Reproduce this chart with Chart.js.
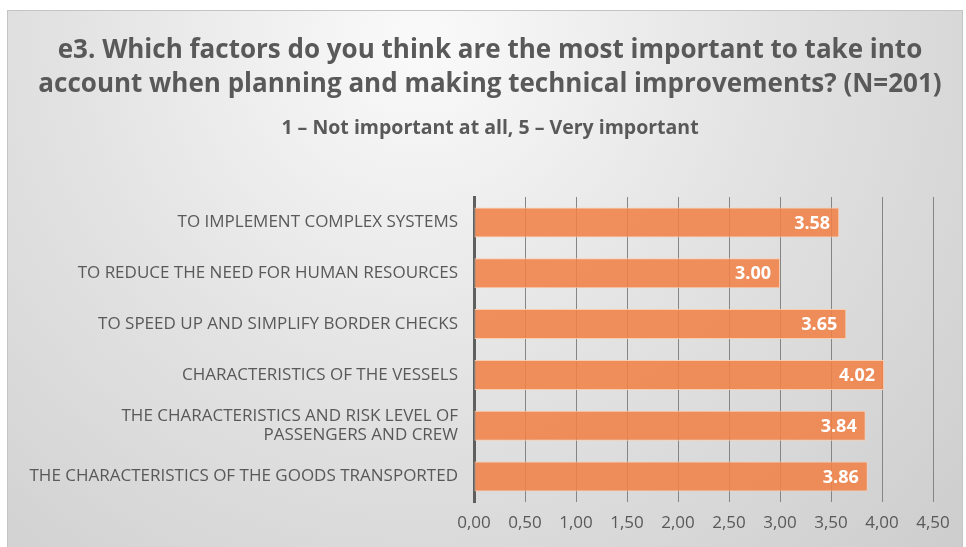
<!DOCTYPE html>
<html>
<head>
<meta charset="utf-8">
<script src="https://cdn.jsdelivr.net/npm/chart.js@4/dist/chart.umd.min.js"></script>
<style>
  html, body { margin: 0; padding: 0; background: #fff; }
  #wrap { width: 966px; height: 547px; position: relative; }
</style>
</head>
<body>
<div id="wrap"><canvas id="grafico" width="966" height="547"></canvas></div>
<script>
const categorias = [
  "TO IMPLEMENT COMPLEX SYSTEMS",
  "TO REDUCE THE NEED FOR HUMAN RESOURCES",
  "TO SPEED UP AND SIMPLIFY BORDER CHECKS",
  "CHARACTERISTICS OF THE VESSELS",
  ["THE CHARACTERISTICS AND RISK LEVEL OF", "PASSENGERS AND CREW"],
  "THE CHARACTERISTICS OF THE GOODS TRANSPORTED"
];
const medias = [3.58, 3.00, 3.65, 4.02, 3.84, 3.86];
const ticksX = [0, 0.5, 1, 1.5, 2, 2.5, 3, 3.5, 4, 4.5];

const titulo = [
  "e3. Which factors do you think are the most important to take into",
  "account when planning and making technical improvements? (N=201)"
];
const subtitulo = "1 \u2013 Not important at all, 5 \u2013 Very important";

// fundo cinza com moldura
const fundo = {
  id: "fundo",
  beforeDraw(chart) {
    const ctx = chart.ctx;
    ctx.save();
    ctx.fillStyle = "#ffffff";
    ctx.fillRect(0, 0, chart.width, chart.height);
    const g = ctx.createRadialGradient(420, 40, 20, 420, 40, 780);
    g.addColorStop(0, "#f9f9f9");
    g.addColorStop(0.45, "#e2e2e2");
    g.addColorStop(1, "#cbcbcb");
    ctx.fillStyle = g;
    ctx.fillRect(7.5, 10.5, 955, 540);
    ctx.strokeStyle = "#c4c4c4";
    ctx.lineWidth = 1;
    ctx.strokeRect(7.5, 10.5, 955, 540);
    ctx.restore();
  }
};

// rótulos de valor dentro das barras
const rotulos = {
  id: "rotulos",
  afterDatasetsDraw(chart) {
    const ctx = chart.ctx;
    const meta = chart.getDatasetMeta(0);
    ctx.save();
    ctx.font = "bold 18px 'Open Sans'";
    ctx.fillStyle = "#ffffff";
    ctx.textAlign = "right";
    ctx.textBaseline = "middle";
    meta.data.forEach((bar, i) => {
      ctx.fillText(medias[i].toFixed(2), bar.x - 9, bar.y + 1);
    });
    ctx.restore();
  }
};

new Chart(document.getElementById("grafico"), {
  type: "bar",
  data: {
    labels: categorias,
    datasets: [{
      data: medias,
      backgroundColor: "rgba(241,130,72,0.88)",
      borderColor: "#f9cdb2",
      borderWidth: 1,
      borderSkipped: false,
      barPercentage: 0.59,
      categoryPercentage: 1
    }]
  },
  options: {
    indexAxis: "y",
    responsive: false,
    animation: false,
    layout: { padding: { top: 33, right: 0, left: 14, bottom: 0 } },
    plugins: {
      legend: { display: false },
      tooltip: { enabled: false },
      title: {
        display: true,
        text: titulo,
        color: "#595959",
        font: { family: "'Open Sans'", size: 26, weight: "bold", lineHeight: 1.32 },
        padding: { top: 0, bottom: 15 }
      },
      subtitle: {
        display: true,
        text: subtitulo,
        color: "#595959",
        font: { family: "'Open Sans'", size: 19.5, weight: "bold", lineHeight: 1.2 },
        padding: { top: 0, bottom: 57 }
      }
    },
    scales: {
      x: {
        min: 0,
        max: 4.5,
        afterBuildTicks(scale) {
          scale.ticks = ticksX.map(v => ({ value: v }));
        },
        afterFit(scale) {
          scale.height = 45;
          scale.paddingRight = 33;
        },
        ticks: {
          color: "#595959",
          font: { family: "'Open Sans'", size: 17 },
          padding: 11,
          callback: v => v.toFixed(2).replace(".", ",")
        },
        grid: { color: "#858585", lineWidth: 1, drawTicks: false },
        border: { display: false }
      },
      y: {
        afterFit(scale) { scale.width = 460; },
        ticks: {
          color: "#595959",
          font: { family: "'Open Sans'", size: 17, lineHeight: 1.1 },
          padding: 16
        },
        grid: { display: false, drawTicks: false },
        border: { display: true, color: "#5f5f5f", width: 3 }
      }
    }
  },
  plugins: [fundo, rotulos]
});
</script>
</body>
</html>
